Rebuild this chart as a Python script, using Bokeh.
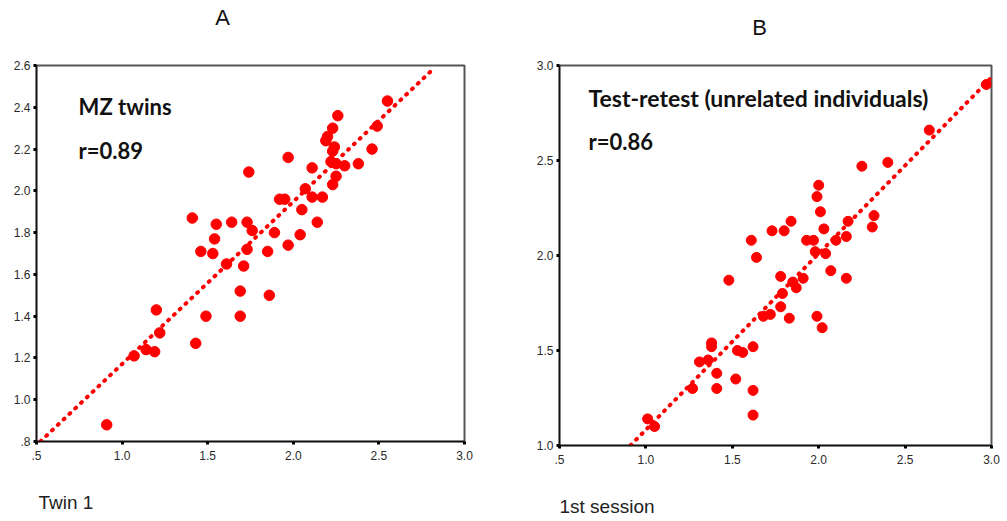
from bokeh.plotting import figure
from bokeh.layouts import row, column
from bokeh.models import FixedTicker, Label
from bokeh.embed import file_html
from bokeh.resources import INLINE

# ---------------- Data ----------------
# Panel A: MZ twins (Twin 1 vs Twin 2)
a_twin1 = [0.91, 1.07, 1.14, 1.19, 1.20, 1.22, 1.43, 1.49, 1.69, 1.69,
           1.86, 1.41, 1.55, 1.64, 1.73, 1.76, 1.54, 1.46, 1.53, 1.61,
           1.73, 1.71, 1.85, 1.89, 1.97, 2.04, 2.14, 2.05, 1.92, 1.95,
           2.11, 2.17, 2.07, 2.55, 2.49, 2.26, 2.23, 2.19, 2.24, 2.23,
           2.46, 1.97, 2.11, 2.22, 2.25, 2.30, 2.38, 2.25, 2.23, 1.74,
           2.20]
a_twin2 = [0.88, 1.21, 1.24, 1.23, 1.43, 1.32, 1.27, 1.40, 1.40, 1.52,
           1.50, 1.87, 1.84, 1.85, 1.85, 1.81, 1.77, 1.71, 1.70, 1.65,
           1.72, 1.64, 1.71, 1.80, 1.74, 1.79, 1.85, 1.91, 1.96, 1.96,
           1.97, 1.97, 2.01, 2.43, 2.31, 2.36, 2.30, 2.24, 2.21, 2.19,
           2.20, 2.16, 2.11, 2.14, 2.13, 2.12, 2.13, 2.07, 2.03, 2.09,
           2.26]

# Panel B: test-retest (1st session vs 2nd session)
b_session1 = [1.01, 1.05, 1.27, 1.31, 1.36, 1.38, 1.38, 1.41, 1.41, 1.52,
              1.53, 1.56, 1.62, 1.62, 1.62, 1.48, 1.61, 1.64, 1.73, 1.80,
              1.84, 1.93, 1.97, 1.78, 1.85, 1.87, 1.91, 1.79, 1.78, 1.83,
              1.68, 1.72, 2.00, 1.99, 2.01, 2.03, 2.10, 2.16, 2.17, 2.32,
              2.31, 1.98, 2.04, 2.07, 2.16, 1.99, 2.02, 2.97, 2.64, 2.40,
              2.25]
b_session2 = [1.14, 1.10, 1.30, 1.44, 1.45, 1.54, 1.52, 1.38, 1.30, 1.35,
              1.50, 1.49, 1.52, 1.29, 1.16, 1.87, 2.08, 1.99, 2.13, 2.13,
              2.18, 2.08, 2.08, 1.89, 1.86, 1.83, 1.88, 1.80, 1.73, 1.67,
              1.68, 1.69, 2.37, 2.31, 2.23, 2.14, 2.08, 2.10, 2.18, 2.21,
              2.15, 2.02, 2.01, 1.92, 1.88, 1.68, 1.62, 2.90, 2.66, 2.49,
              2.47]

# Fit lines (slope, intercept) and x extent of the drawn line
a_fit_slope, a_fit_intercept = 0.777, 0.394
a_fit_extent = [0.523, 2.81]
b_fit_slope, b_fit_intercept = 0.927, 0.156
b_fit_extent = [0.911, 2.994]

# Ticks
x_ticks = [0.5, 1.0, 1.5, 2.0, 2.5, 3.0]
x_tick_labels = [".5", "1.0", "1.5", "2.0", "2.5", "3.0"]
a_y_ticks = [0.8, 1.0, 1.2, 1.4, 1.6, 1.8, 2.0, 2.2, 2.4, 2.6]
a_y_tick_labels = [".8", "1.0", "1.2", "1.4", "1.6", "1.8", "2.0", "2.2", "2.4", "2.6"]
b_y_ticks = [1.0, 1.5, 2.0, 2.5, 3.0]
b_y_tick_labels = ["1.0", "1.5", "2.0", "2.5", "3.0"]

# Texts
a_title, b_title = "A", "B"
a_xlabel, b_xlabel = "Twin 1", "1st session"
a_note, b_note = "MZ twins", "Test-retest (unrelated individuals)"
a_r, b_r = "r=0.89", "r=0.86"

RED = "#ff0000"
TICK_FONT = "Liberation Sans"
NOTE_FONT = "Lato"


def text_strip(width, height, frame_x, text, x, y, size, align, color):
    """A bare strip (no axes) holding one text; its frame lines up with the
    plot frame below/above it, so x_range spans the frame's pixel columns."""
    s = figure(width=width, height=height, x_range=frame_x, y_range=(0, height),
               x_axis_type=None, y_axis_type=None, output_backend="svg",
               toolbar_location=None, min_border_left=0, min_border_right=0,
               min_border_top=0, min_border_bottom=0)
    s.outline_line_color = None
    s.grid.visible = False
    s.background_fill_color = "white"
    s.border_fill_color = "white"
    s.add_layout(Label(x=x, y=y, text=text, text_font=TICK_FONT,
                       text_font_size=size, text_align=align,
                       text_baseline="alphabetic", text_color=color))
    return s


def make_panel(xs, ys, y_range, y_ticks, y_tick_labels, slope, intercept, extent,
               width, height, borders, note, note_pos, note_size, rtext, r_pos,
               marker_size):
    left, right, top, bottom = borders
    p = figure(width=width, height=height, x_range=(0.5, 3.0), y_range=y_range,
               output_backend="svg", toolbar_location=None,
               min_border_left=left, min_border_right=right,
               min_border_top=top, min_border_bottom=bottom)
    p.xgrid.visible = False
    p.ygrid.visible = False
    p.background_fill_color = "white"
    p.border_fill_color = "white"
    p.outline_line_color = "#555555"
    p.outline_line_width = 2

    p.xaxis.ticker = FixedTicker(ticks=x_ticks)
    p.xaxis.major_label_overrides = dict(zip(x_ticks, x_tick_labels))
    p.yaxis.ticker = FixedTicker(ticks=y_ticks)
    p.yaxis.major_label_overrides = dict(zip(y_ticks, y_tick_labels))
    for ax in (p.xaxis[0], p.yaxis[0]):
        ax.axis_line_color = "#111111"
        ax.axis_line_width = 1.5
        ax.major_tick_in = 0
        ax.major_tick_out = 3
        ax.major_tick_line_width = 3
        ax.major_tick_line_color = "black"
        ax.minor_tick_line_color = None
        ax.major_label_text_font = TICK_FONT
        ax.major_label_text_font_size = "12px"
        ax.major_label_text_color = "#2a2a2a"
    p.yaxis.major_label_standoff = 3
    p.xaxis.major_label_standoff = 6

    fx = extent
    fy = [slope * v + intercept for v in fx]
    p.line(fx, fy, line_color=RED, line_width=4, line_dash="1 7", line_cap="round")
    p.scatter(xs, ys, size=marker_size, fill_color=RED, line_color=RED)

    p.add_layout(Label(x=note_pos[0], y=note_pos[1], text=note,
                       text_font=NOTE_FONT, text_font_size=note_size,
                       text_font_style="bold", text_align="left",
                       text_baseline="alphabetic", text_color="#111111"))
    p.add_layout(Label(x=r_pos[0], y=r_pos[1], text=rtext,
                       text_font=NOTE_FONT, text_font_size="22px",
                       text_font_style="bold", text_align="left",
                       text_baseline="alphabetic", text_color="#111111"))
    return p


WA, WB = 512, 488
FRAME_A = (36, 464)   # frame pixel columns inside figure A
FRAME_B = (47, 479)   # frame pixel columns inside figure B

pA = make_panel(a_twin1, a_twin2, (0.8, 2.6), a_y_ticks, a_y_tick_labels,
                a_fit_slope, a_fit_intercept, a_fit_extent,
                WA, 424, (FRAME_A[0], WA - FRAME_A[1], 20, 28),
                a_note, (0.746, 2.403), "22px", a_r, (0.746, 2.191), 10.5)

pB = make_panel(b_session1, b_session2, (1.0, 3.0), b_y_ticks, b_y_tick_labels,
                b_fit_slope, b_fit_intercept, b_fit_extent,
                WB, 426, (FRAME_B[0], WB - FRAME_B[1], 20, 26),
                b_note, (0.668, 2.831), "23px", b_r, (0.668, 2.598), 10)

tA = text_strip(WA, 45, FRAME_A, a_title, 222, 28, "22px", "center", "#111111")
tB = text_strip(WB, 45, FRAME_B, b_title, 247, 18, "22px", "center", "#111111")
lA = text_strip(WA, 50, FRAME_A, a_xlabel, 38, 17, "19px", "left", "#222222")
lB = text_strip(WB, 48, FRAME_B, b_xlabel, 47, 13, "19px", "left", "#222222")

layout = row(column(tA, pA, lA), column(tB, pB, lB))
open("out.html", "w").write(file_html(layout, INLINE))
